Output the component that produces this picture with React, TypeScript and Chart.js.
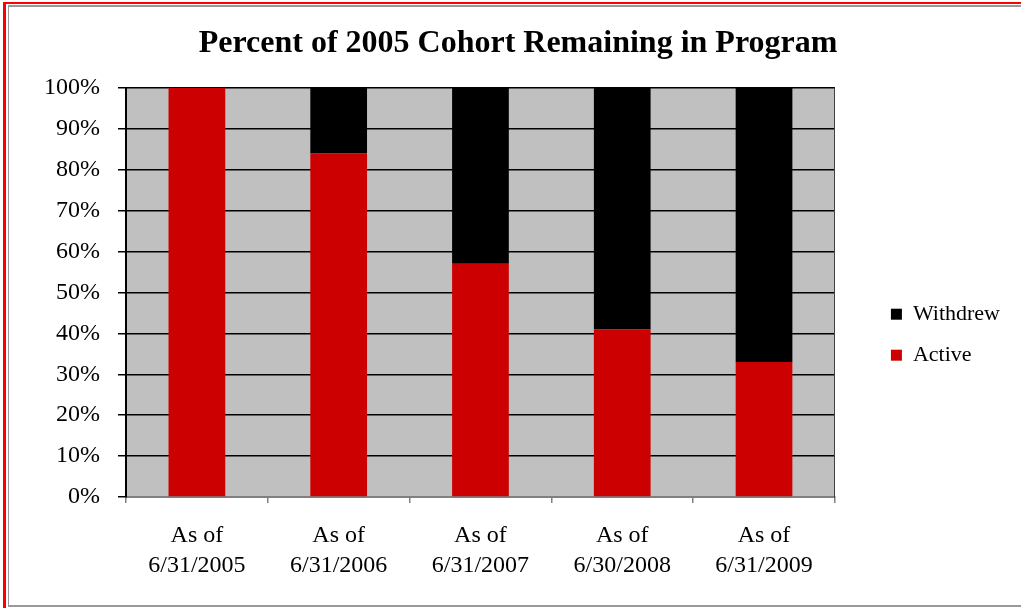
import React, { useEffect, useRef } from "react";
import { Chart, registerables } from "chart.js";

Chart.register(...registerables);

const categories: string[][] = [
  ["As of", "6/31/2005"],
  ["As of", "6/31/2006"],
  ["As of", "6/31/2007"],
  ["As of", "6/30/2008"],
  ["As of", "6/31/2009"],
];
const activeValues = [100, 84, 57, 41, 33];
const withdrewValues = [0, 16, 43, 59, 67];
const yTicks = [0, 10, 20, 30, 40, 50, 60, 70, 80, 90, 100];
const titleText = "Percent of 2005 Cohort Remaining in Program";

const FONT = "'Liberation Serif', 'Times New Roman', serif";

const plotBg = {
  id: "plotBg",
  beforeDraw(chart: any) {
    const { ctx, chartArea } = chart;
    ctx.save();
    ctx.fillStyle = "#C0C0C0";
    ctx.fillRect(chartArea.left, chartArea.top, chartArea.right - chartArea.left, chartArea.bottom - chartArea.top);
    ctx.restore();
  },
};

export default function App() {
  const ref = useRef<HTMLCanvasElement>(null);
  useEffect(() => {
    if (!ref.current) return;
    const chart = new Chart(ref.current, {
      type: "bar",
      data: {
        labels: categories,
        datasets: [
          { label: "Active", data: activeValues, backgroundColor: "#CC0000", borderWidth: 0 },
          { label: "Withdrew", data: withdrewValues, backgroundColor: "#000000", borderWidth: 0 },
        ],
      },
      plugins: [plotBg],
      options: {
        animation: false,
        responsive: false,
        devicePixelRatio: 1,
        layout: { padding: { left: 17, right: 3, top: 0, bottom: 0 } },
        datasets: { bar: { categoryPercentage: 1, barPercentage: 0.4 } },
        plugins: {
          title: {
            display: true,
            text: titleText,
            color: "#000",
            font: { family: FONT, size: 32, weight: "bold", lineHeight: 1.2 },
            padding: { top: 18, bottom: 24.6 },
          },
          legend: {
            display: true,
            position: "right",
            reverse: true,
            title: { display: true, text: "", padding: { top: 44, bottom: 0 } },
            labels: {
              boxWidth: 11,
              boxHeight: 11,
              padding: 19,
              color: "#000",
              font: { family: FONT, size: 22 },
            },
          },
          tooltip: { enabled: false },
        },
        scales: {
          x: {
            stacked: true,
            offset: true,
            grid: {
              display: true,
              offset: true,
              drawOnChartArea: false,
              drawTicks: true,
              tickLength: 6,
              color: "#808080",
              lineWidth: 1.5,
            },
            border: { display: true, color: "#808080", width: 2 },
            ticks: {
              color: "#000",
              padding: 18,
              maxRotation: 0,
              autoSkip: false,
              font: { family: FONT, size: 24, lineHeight: 1.25 },
            },
            afterFit: (s: any) => {
              s.height = 107;
            },
          },
          y: {
            stacked: true,
            min: 0,
            max: 100,
            afterBuildTicks: (s: any) => {
              s.ticks = yTicks.map((v) => ({ value: v }));
            },
            grid: {
              display: true,
              drawTicks: true,
              tickLength: 8,
              lineWidth: 1.5,
              color: (c: any) => (c.tick && c.tick.value === 0 ? "rgba(0,0,0,0)" : "#000"),
              tickColor: "#000",
              tickWidth: 1.5,
            },
            border: { display: true, color: "#000", width: 2 },
            ticks: {
              color: "#000",
              padding: 18,
              font: { family: FONT, size: 24 },
              callback: (v: any) => v + "%",
            },
            afterFit: (s: any) => {
              s.width = 100;
            },
          },
          y2: {
            type: "linear",
            position: "right",
            display: true,
            grid: { display: false, drawOnChartArea: false, drawTicks: false },
            ticks: { display: false },
            border: { display: true, color: "#404040", width: 1 },
            afterFit: (s: any) => {
              s.width = 37;
            },
          },
        },
      } as any,
    });
    return () => chart.destroy();
  }, []);

  return (
    <div style={{ position: "absolute", left: 0, top: 0, width: 1021, height: 608, background: "#fff", overflow: "hidden" }}>
      <div
        style={{
          position: "absolute",
          left: 3,
          top: 2,
          width: 1100,
          height: 700,
          borderLeft: "3px solid #ff0000",
          borderTop: "2px solid #ff0000",
        }}
      />
      <div
        style={{
          position: "absolute",
          left: 8,
          top: 5,
          width: 1100,
          height: 602,
          boxSizing: "border-box",
          borderLeft: "1px solid #999",
          borderTop: "2px solid #999",
          borderBottom: "2px solid #999",
        }}
      />
      <canvas
        ref={ref}
        width={1004}
        height={597}
        style={{ position: "absolute", left: 9, top: 7, width: 1004, height: 597 }}
      />
    </div>
  );
}
